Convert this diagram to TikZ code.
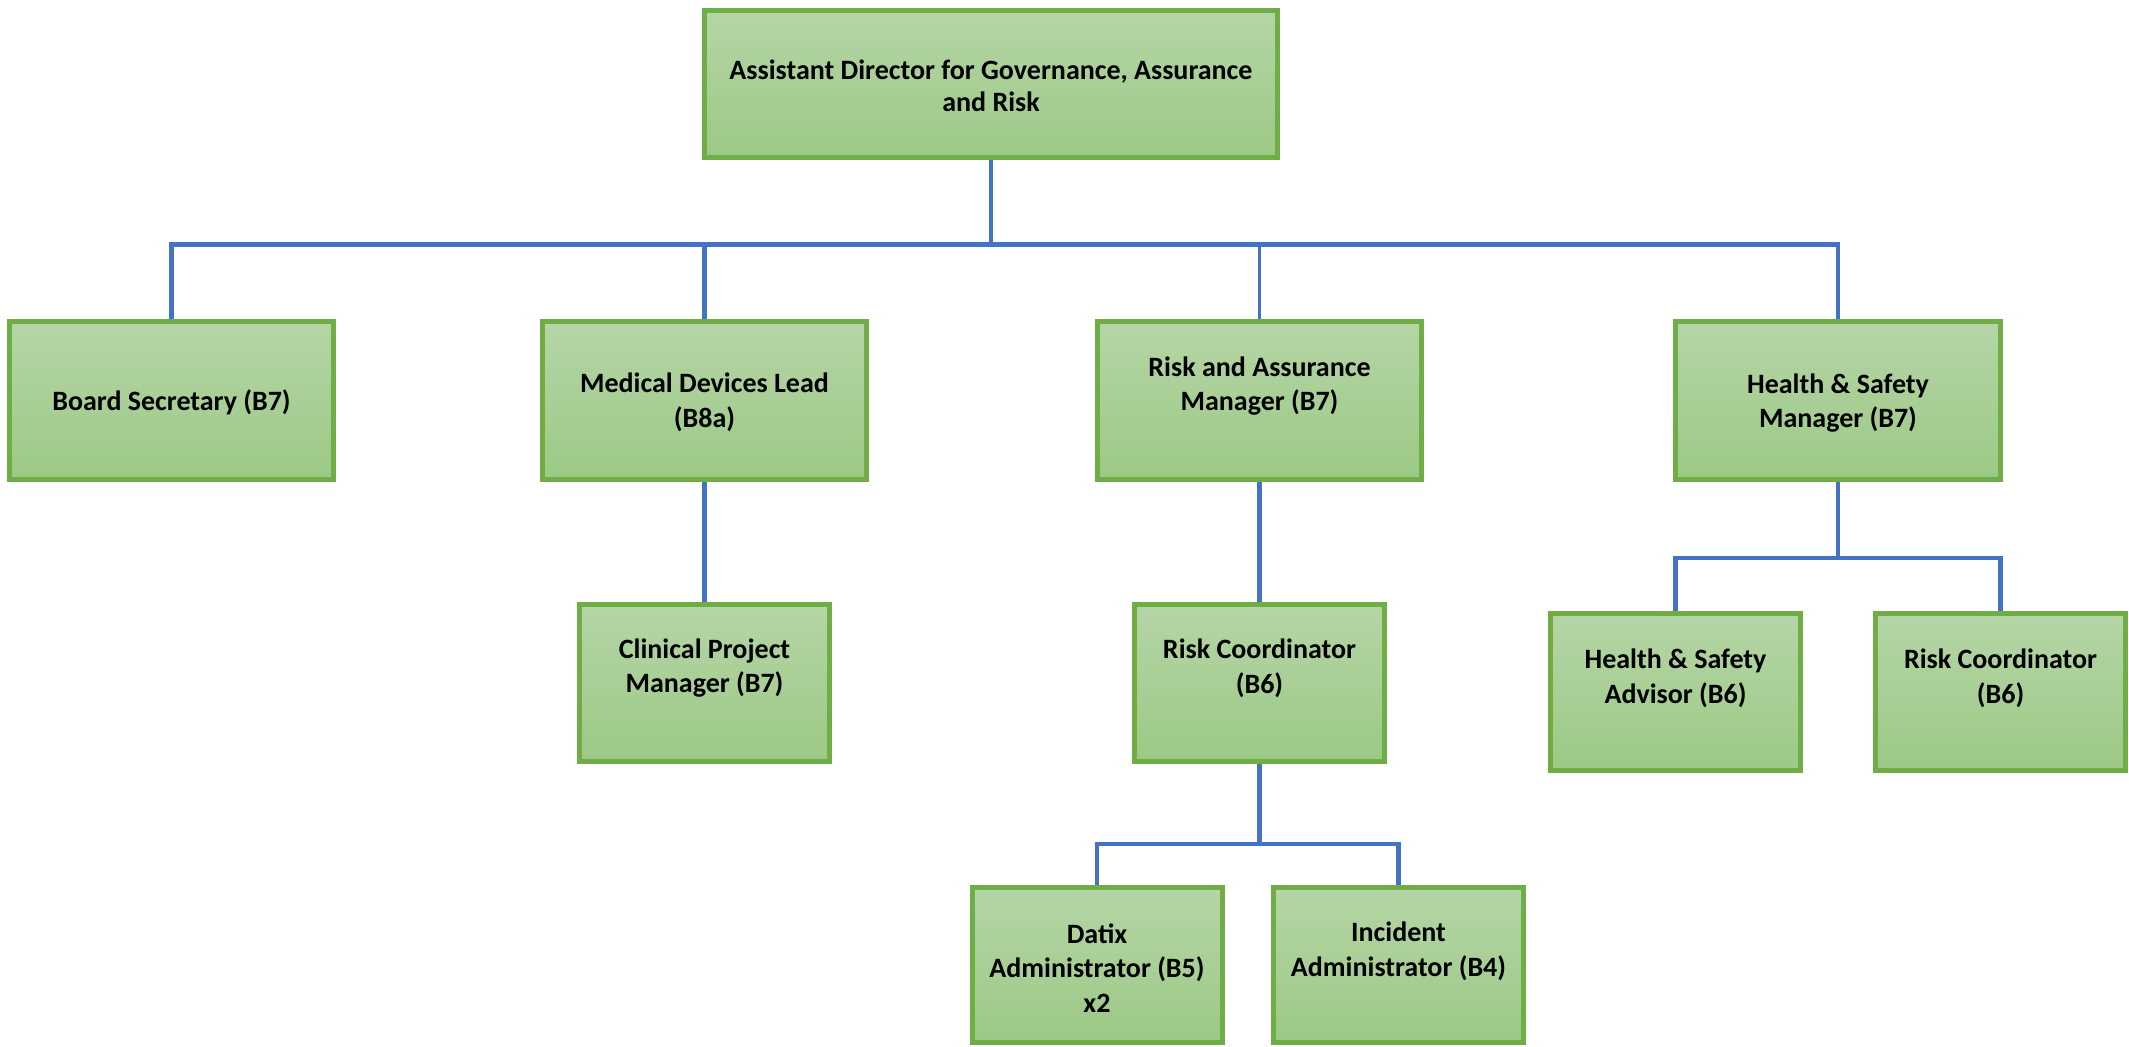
\documentclass[tikz,border=0pt]{standalone}
\usepackage{fontspec}
\setmainfont{Carlito}
\definecolor{gTop}{HTML}{B5D5A6}
\definecolor{gBot}{HTML}{9CC985}
\definecolor{gBorder}{HTML}{70AD47}
\definecolor{lnBlue}{HTML}{4472C4}
\begin{document}
\begin{tikzpicture}[x=0.5pt,y=-0.5pt,
  box/.style={rectangle, draw=gBorder, line width=2.5pt, top color=gTop, bottom color=gBot, inner sep=0pt},
  bigbox/.style={box, minimum width=162pt, minimum height=79pt},
  smallbox/.style={box, minimum width=125pt, minimum height=78.5pt},
  txt/.style={align=center, inner sep=0pt, font=\fontsize{14}{17.4}\selectfont\bfseries},
  conn/.style={draw=lnBlue, line width=2.3pt},
  thinconn/.style={draw=lnBlue, line width=1.8pt}]
\useasboundingbox (0,0) rectangle (2129,1046);
% boxes
\node[box, minimum width=286.5pt, minimum height=73.5pt] (top) at (991,84) {};
\node[bigbox] (bs)  at (171.5,400.5) {};
\node[bigbox] (mdl) at (704.5,400.5) {};
\node[bigbox] (ram) at (1259.5,400.5) {};
\node[bigbox, minimum width=162.5pt] (hsm) at (1838,400.5) {};
\node[smallbox] (cpm) at (704.5,683) {};
\node[smallbox] (rc)  at (1259.5,683) {};
\node[smallbox] (hsa) at (1675.5,692) {};
\node[smallbox] (rcb) at (2000.5,692) {};
\node[smallbox, minimum height=77.5pt] (dat) at (1097,965) {};
\node[smallbox, minimum height=77.5pt] (inc) at (1398.5,965) {};
% texts
\node[txt, font=\fontsize{14}{16}\selectfont\bfseries] (topt) at (991,86) {Assistant Director for Governance, Assurance\\and Risk};
\node[txt] (bst)  at (171.5,402) {Board Secretary (B7)};
\node[txt] (mdlt) at (704.5,402) {Medical Devices Lead\\(B8a)};
\node[txt] (ramt) at (1259.5,386) {Risk and Assurance\\Manager (B7)};
\node[txt] (hsmt) at (1838,403) {Health \& Safety\\Manager (B7)};
\node[txt] (cpmt) at (704.5,668) {Clinical Project\\Manager (B7)};
\node[txt] (rct)  at (1259.5,668) {Risk Coordinator\\(B6)};
\node[txt] (hsat) at (1675.5,678) {Health \& Safety\\Advisor (B6)};
\node[txt] (rcbt) at (2000.5,678) {Risk Coordinator\\(B6)};
\node[txt] (datt) at (1097,968) {Datix\\Administrator (B5)\\x2};
\node[txt] (inct) at (1398.5,951) {Incident\\Administrator (B4)};
% bus coordinates
\coordinate (busA) at (991,244.5);
\coordinate (busB) at (1838,558);
\coordinate (busC) at (1259.5,844);
% connectors
\draw[conn] (bs.north) -- (bs.north |- busA) -- (hsm.north |- busA) -- (hsm.north);
\draw[conn] (top.south) -- (top.south |- busA);
\draw[conn] (mdl.north) -- (mdl.north |- busA);
\draw[thinconn] (ram.north) -- (ram.north |- busA);
\draw[conn] (mdl.south) -- (cpm.north);
\draw[conn] (ram.south) -- (rc.north);
\draw[conn] (hsm.south) -- (hsm.south |- busB);
\draw[conn] (hsa.north) -- (hsa.north |- busB) -- (rcb.north |- busB) -- (rcb.north);
\draw[conn] (rc.south) -- (rc.south |- busC);
\draw[conn] (dat.north) -- (dat.north |- busC) -- (inc.north |- busC) -- (inc.north);
\end{tikzpicture}
\end{document}
